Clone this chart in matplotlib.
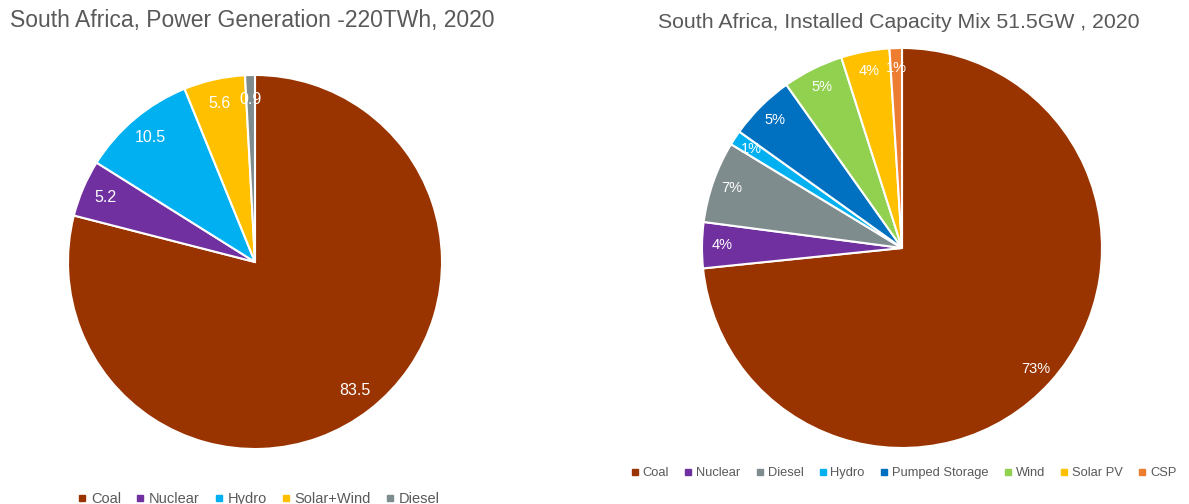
import matplotlib.pyplot as plt
from matplotlib.lines import Line2D

plt.rcParams['font.family'] = ['Liberation Sans', 'DejaVu Sans']

# left pie: power generation (TWh share, as labelled)
gen_labels = ['Coal', 'Nuclear', 'Hydro', 'Solar+Wind', 'Diesel']
gen_values = [83.5, 5.2, 10.5, 5.6, 0.9]
gen_colors = ['#993300', '#7030A0', '#00B0F0', '#FFC000', '#7F8C8D']

# right pie: installed capacity mix (%)
cap_labels = ['Coal', 'Nuclear', 'Diesel', 'Hydro', 'Pumped Storage', 'Wind', 'Solar PV', 'CSP']
cap_values = [73.3, 3.7, 6.6, 1.2, 5.3, 4.9, 3.9, 1.0]
cap_colors = ['#993300', '#7030A0', '#7F8C8D', '#00B0F0', '#0070C0', '#92D050', '#FFC000', '#ED7D31']

W, H = 1189, 504
fig = plt.figure(figsize=(W / 100, H / 100), dpi=100)


def px_axes(x0, y0, x1, y1):
    return fig.add_axes([x0 / W, 1 - y1 / H, (x1 - x0) / W, (y1 - y0) / H])


def draw_pie(ax, values, colors, fmt, fs, dist):
    ax.pie(values, colors=colors, startangle=90, counterclock=False,
           autopct=fmt, pctdistance=dist,
           wedgeprops=dict(edgecolor='white', linewidth=1.5),
           textprops=dict(color='white', fontsize=fs))
    ax.set_xlim(-1, 1)
    ax.set_ylim(-1, 1)
    ax.set_aspect('auto')


ax1 = px_axes(68, 75, 442, 449)
total = sum(gen_values)
draw_pie(ax1, gen_values, gen_colors, lambda p: f'{p * total / 100:.1f}', 11.5, 0.87)

ax2 = px_axes(702, 48, 1102, 448)
draw_pie(ax2, cap_values, cap_colors, lambda p: f'{p:.0f}%', 10.5, 0.9)

fig.text(10 / W, 1 - 21 / H, 'South Africa, Power Generation -220TWh, 2020',
         fontsize=16.5, color='#595959', va='center', ha='left')
fig.text(658 / W, 1 - 22 / H, 'South Africa, Installed Capacity Mix 51.5GW , 2020',
         fontsize=15.3, color='#595959', va='center', ha='left')


def handles(labels, colors):
    return [Line2D([], [], marker='s', linestyle='none', markersize=5,
                   markerfacecolor=c, markeredgecolor=c, label=l)
            for l, c in zip(labels, colors)]


fig.legend(handles=handles(gen_labels, gen_colors), ncol=5, frameon=False,
           fontsize=10.5, handletextpad=0.2, columnspacing=0.9, handlelength=0.8,
           labelcolor='#595959', loc='center', bbox_to_anchor=(258 / W, 1 - 499 / H))
fig.legend(handles=handles(cap_labels, cap_colors), ncol=8, frameon=False,
           fontsize=9.3, handletextpad=0.2, columnspacing=1.1, handlelength=0.8,
           labelcolor='#595959', loc='center', bbox_to_anchor=(903 / W, 1 - 473 / H))

fig.savefig('out.png', dpi=100)
